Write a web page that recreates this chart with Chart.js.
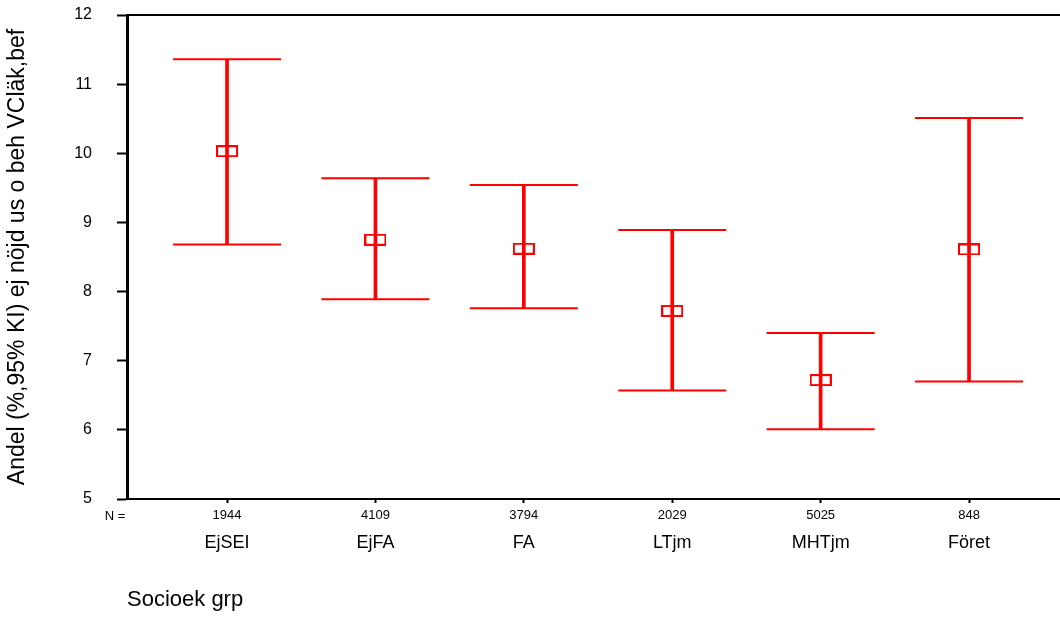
<!DOCTYPE html>
<html>
<head>
<meta charset="utf-8">
<script src="https://cdn.jsdelivr.net/npm/chart.js@4/dist/chart.umd.min.js"></script>
<style>
  body { margin: 0; background: #fff; }
  #wrap { width: 1060px; height: 618px; }
</style>
</head>
<body>
<div id="wrap"><canvas id="plot" width="1060" height="618"></canvas></div>
<script>
// data
const groups = ['EjSEI', 'EjFA', 'FA', 'LTjm', 'MHTjm', 'Föret'];
const counts = ['1944', '4109', '3794', '2029', '5025', '848'];
const means  = [10.03, 8.75, 8.62, 7.72, 6.72, 8.61];
const lows   = [8.68, 7.89, 7.76, 6.57, 6.01, 6.70];
const highs  = [11.36, 9.64, 9.54, 8.89, 7.40, 10.51];
const yTicks = [5, 6, 7, 8, 9, 10, 11, 12];

const RED = '#ff0000';
Chart.defaults.font.family = '"Liberation Sans", Arial, sans-serif';
Chart.defaults.color = '#000';

// open rectangle marker for the mean
const meanMark = document.createElement('canvas');
meanMark.width = 22; meanMark.height = 12;
(function () {
  const c = meanMark.getContext('2d');
  c.strokeStyle = RED; c.lineWidth = 2;
  c.strokeRect(1, 1, 20, 10);
})();

const pos = groups.map((g, i) => i + 1);
const fixTicks = s => { s.ticks = pos.map(v => ({ value: v })); };
const X_MIN = 0.326, X_MAX = 6.613;

const nLabel = {
  id: 'nLabel',
  afterDraw(chart) {
    const ctx = chart.ctx;
    ctx.save();
    ctx.font = '13px "Liberation Sans", Arial, sans-serif';
    ctx.fillStyle = '#000';
    ctx.textAlign = 'center';
    ctx.textBaseline = 'middle';
    ctx.fillText('N =', 115, 516);
    ctx.restore();
  }
};

new Chart(document.getElementById('plot').getContext('2d'), {
  type: 'bar',
  data: {
    datasets: [
      { type: 'bar', label: 'ci', data: pos.map((x, i) => ({ x, y: [lows[i], highs[i]] })),
        backgroundColor: RED, borderWidth: 0, barThickness: 3, grouped: false },
      { type: 'scatter', label: 'upper', data: pos.map((x, i) => ({ x, y: highs[i] })),
        pointStyle: 'line', pointRadius: 54, borderColor: RED, borderWidth: 2 },
      { type: 'scatter', label: 'lower', data: pos.map((x, i) => ({ x, y: lows[i] })),
        pointStyle: 'line', pointRadius: 54, borderColor: RED, borderWidth: 2 },
      { type: 'scatter', label: 'mean', data: pos.map((x, i) => ({ x, y: means[i] })),
        pointStyle: meanMark, pointRadius: 6 }
    ]
  },
  options: {
    responsive: false,
    animation: false,
    devicePixelRatio: 1,
    layout: { autoPadding: false, padding: { top: 15, left: 0, right: 0, bottom: 0 } },
    plugins: { legend: { display: false }, tooltip: { enabled: false } },
    scales: {
      x: {
        type: 'linear', position: 'bottom', min: X_MIN, max: X_MAX, offset: false,
        afterBuildTicks: fixTicks,
        afterFit: s => { s.height = 27; },
        grid: { offset: false, drawOnChartArea: false, tickLength: 4, tickWidth: 2, tickColor: '#000' },
        border: { color: '#000', width: 2 },
        ticks: { padding: 5, font: { size: 13 }, maxRotation: 0, callback: v => counts[v - 1] ?? '' }
      },
      x2: {
        type: 'linear', position: 'bottom', min: X_MIN, max: X_MAX, offset: false,
        afterBuildTicks: fixTicks,
        afterFit: s => { s.height = 92; },
        grid: { offset: false, display: false, drawTicks: false },
        border: { display: false },
        ticks: { padding: 6, font: { size: 18 }, maxRotation: 0, callback: v => groups[v - 1] ?? '' },
        title: { display: true, text: 'Socioek grp', align: 'start',
                 font: { size: 22 }, padding: { top: 0, bottom: 5 } }
      },
      xTop: {
        type: 'linear', position: 'top', min: X_MIN, max: X_MAX, offset: false,
        afterBuildTicks: fixTicks,
        afterFit: s => { s.height = 0; },
        grid: { offset: false, display: false, drawTicks: false },
        ticks: { display: false },
        border: { color: '#000', width: 2 }
      },
      y: {
        min: 5, max: 12,
        afterBuildTicks: s => { s.ticks = yTicks.map(v => ({ value: v })); },
        afterFit: s => { s.width = 127; s.paddingTop = 0; s.paddingBottom = 0; },
        grid: { drawOnChartArea: false, tickLength: 10, tickWidth: 2, tickColor: '#000' },
        border: { color: '#000', width: 3 },
        ticks: { padding: 25, font: { size: 16 } },
        title: { display: true, text: 'Andel (%,95% KI) ej nöjd us o beh VCläk,bef',
                 font: { size: 23 }, padding: { top: 4, bottom: 0 } }
      }
    }
  },
  plugins: [nLabel]
});
</script>
</body>
</html>
